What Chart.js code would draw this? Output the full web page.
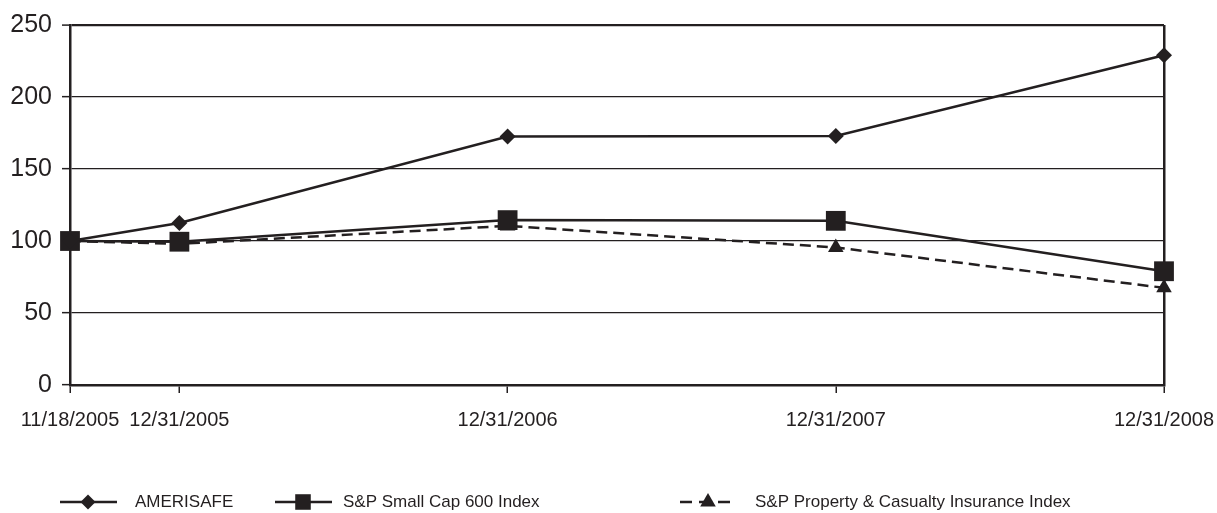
<!DOCTYPE html>
<html>
<head>
<meta charset="utf-8">
<script src="https://cdn.jsdelivr.net/npm/chart.js@4/dist/chart.umd.min.js"></script>
<style>
  body { margin: 0; background: #fff; }
  #wrap { width: 1217px; height: 513px; }
</style>
</head>
<body>
<div id="wrap"><canvas id="perfChart"></canvas></div>
<script>
// data
const dateLabels = ['11/18/2005', '12/31/2005', '12/31/2006', '12/31/2007', '12/31/2008'];
const datePos = [0, 1, 4, 7, 10]; // where each date sits along the axis
const amerisafe = [100, 112.5, 172.5, 173, 229];
const smallCap600 = [100, 99.5, 114.5, 114, 79];
const propCasualty = [100, 98, 110.5, 95.5, 67.5];
const yTicks = [0, 50, 100, 150, 200, 250];

const ink = '#231f20';
const font = 'Liberation Sans, Arial, sans-serif';

function points(values) {
    return values.map((v, i) => ({ x: datePos[i], y: v }));
}

// legend drawn under the x labels, line + marker like the original
const bottomLegend = {
    id: 'bottomLegend',
    afterDraw(chart) {
        const ctx = chart.ctx;
        const y = 502;
        const lineStart = [60, 275, 680];
        const textStart = [135, 343, 755];
        const radius = [7.5, 11, 9];
        chart.data.datasets.forEach((ds, i) => {
            const x0 = lineStart[i];
            ctx.save();
            ctx.strokeStyle = ink;
            ctx.fillStyle = ink;
            ctx.lineWidth = 2.5;
            ctx.setLineDash(ds.borderDash ? [12, 7] : []);
            ctx.beginPath();
            ctx.moveTo(x0, y);
            ctx.lineTo(x0 + 57, y);
            ctx.stroke();
            ctx.setLineDash([]);
            Chart.helpers.drawPoint(ctx, { pointStyle: ds.pointStyle, radius: radius[i], rotation: 0, borderWidth: 0 }, x0 + 28, y);
            ctx.font = '17px ' + font;
            ctx.textBaseline = 'middle';
            ctx.textAlign = 'left';
            ctx.fillText(ds.label, textStart[i], y);
            ctx.restore();
        });
    }
};

const ctx = document.getElementById('perfChart').getContext('2d');
const perfChart = new Chart(ctx, {
    type: 'line',
    data: {
        datasets: [
            {
                label: 'AMERISAFE',
                data: points(amerisafe),
                borderColor: ink,
                backgroundColor: ink,
                borderWidth: 2.5,
                pointStyle: 'rectRot',
                pointRadius: 8,
                pointBorderWidth: 0,
                clip: false,
            },
            {
                label: 'S&P Small Cap 600 Index',
                data: points(smallCap600),
                borderColor: ink,
                backgroundColor: ink,
                borderWidth: 2.5,
                pointStyle: 'rect',
                pointRadius: 14,
                pointBorderWidth: 0,
                clip: false,
            },
            {
                label: 'S&P Property & Casualty Insurance Index',
                data: points(propCasualty),
                borderColor: ink,
                backgroundColor: ink,
                borderWidth: 2.5,
                borderDash: [11, 6],
                pointStyle: 'triangle',
                pointRadius: 9,
                pointBorderWidth: 0,
                clip: false,
            },
        ],
    },
    options: {
        responsive: true,
        maintainAspectRatio: false,
        animation: false,
        layout: { padding: { top: 23, right: 53, left: 0, bottom: 0 } },
        plugins: {
            legend: { display: false },
            tooltip: { enabled: false },
        },
        scales: {
            x: {
                type: 'linear',
                min: datePos[0],
                max: datePos[datePos.length - 1],
                afterBuildTicks: (scale) => {
                    scale.ticks = datePos.map(v => ({ value: v }));
                },
                afterFit: (scale) => {
                    scale.height = 128;
                    scale.paddingLeft = 0;
                    scale.paddingRight = 0;
                },
                grid: {
                    drawOnChartArea: true,
                    color: (c) => c.index === datePos.length - 1 ? ink : 'rgba(0,0,0,0)',
                    lineWidth: 2.5,
                    tickColor: ink,
                    tickWidth: 1.5,
                    tickLength: 8,
                },
                border: { color: ink, width: 2.5 },
                ticks: {
                    autoSkip: false,
                    maxRotation: 0,
                    padding: 15,
                    color: ink,
                    font: { family: font, size: 20 },
                    callback: (v) => dateLabels[datePos.indexOf(v)],
                },
            },
            y: {
                min: yTicks[0],
                max: yTicks[yTicks.length - 1],
                afterBuildTicks: (scale) => {
                    scale.ticks = yTicks.map(v => ({ value: v }));
                },
                afterFit: (scale) => { scale.width = 70; },
                grid: {
                    color: ink,
                    lineWidth: (c) => c.tick && c.tick.value === 250 ? 2.2 : 1.3,
                    tickColor: ink,
                    tickWidth: 1.5,
                    tickLength: 8,
                },
                border: { color: ink, width: 2.5 },
                ticks: {
                    padding: 10,
                    color: ink,
                    font: { family: font, size: 25 },
                },
            },
        },
    },
    plugins: [bottomLegend],
});
</script>
</body>
</html>
